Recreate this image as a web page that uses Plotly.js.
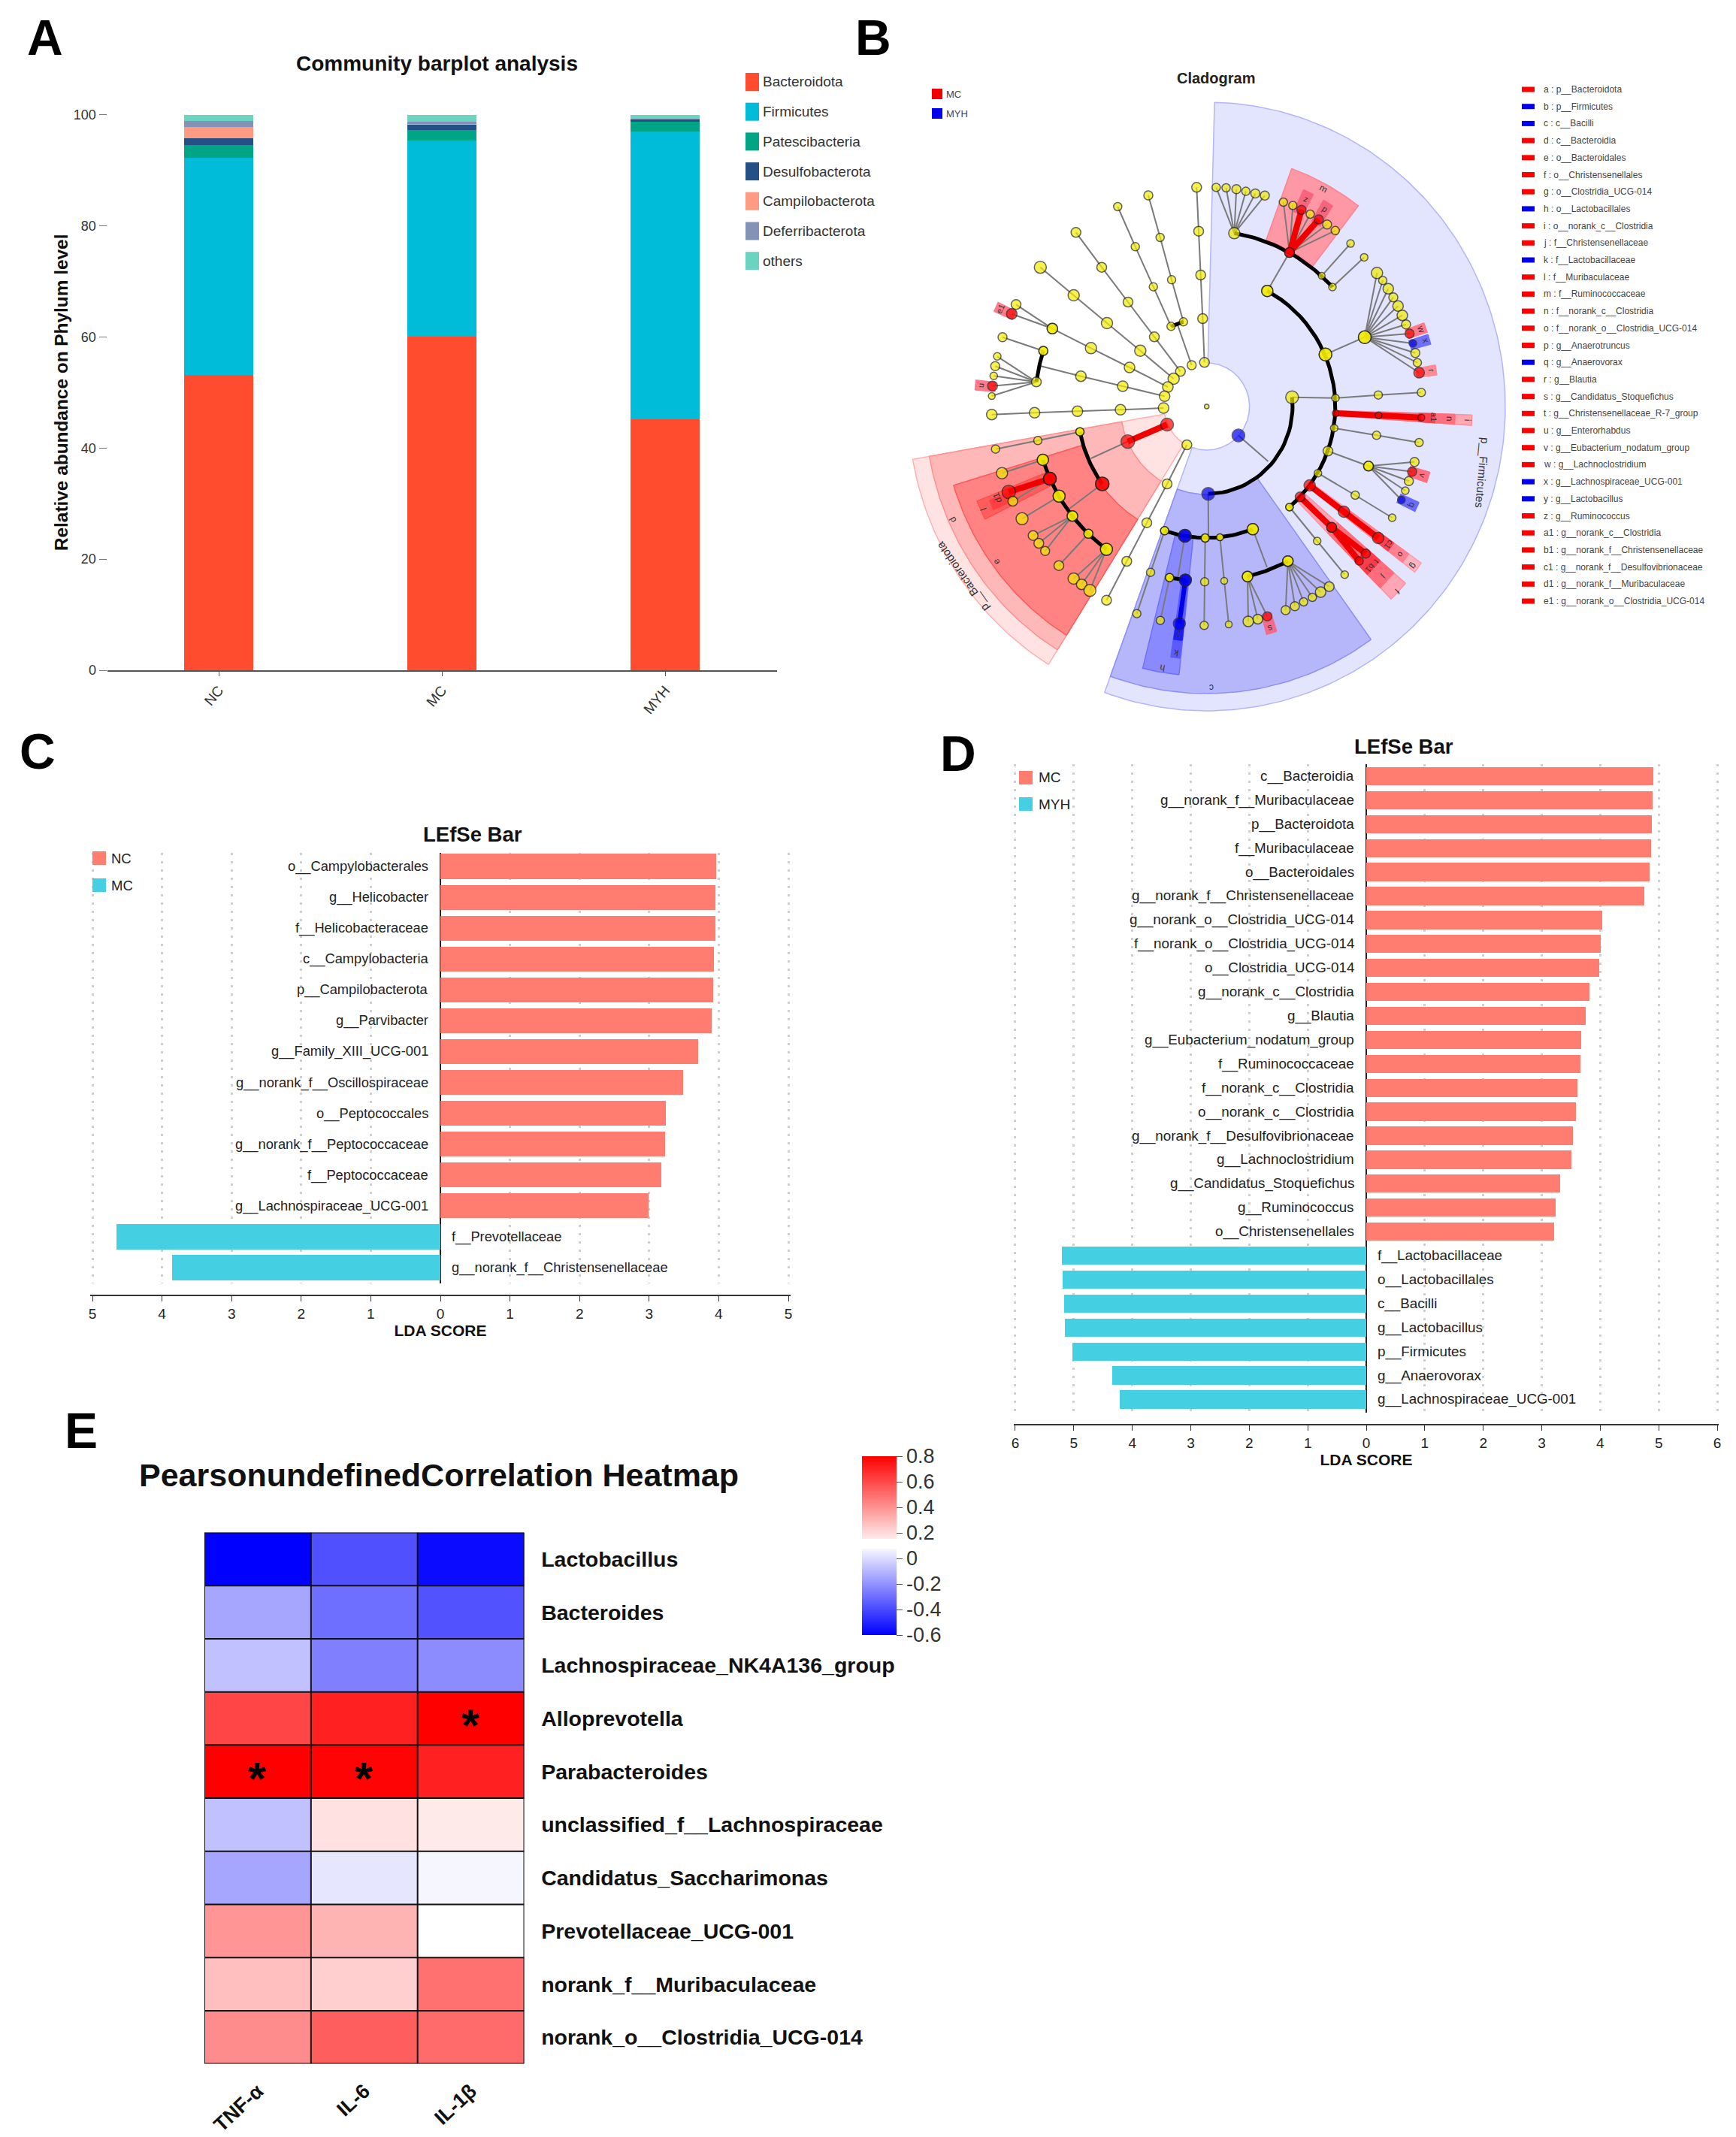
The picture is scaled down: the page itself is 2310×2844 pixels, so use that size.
<!DOCTYPE html>
<html><head><meta charset="utf-8">
<script src="https://cdn.plot.ly/plotly-3.0.1.min.js"></script>
<style>html,body{margin:0;padding:0;background:#fff}</style></head>
<body><div id="chart" style="width:2310px;height:2844px"></div>
<script>
const W=2310,H=2844;
const NARROW='"Liberation Sans",Arial,sans-serif';
const SANS='"Liberation Sans",Arial,sans-serif';

/* ---------- Panel A ---------- */
const groupsA=['NC','MC','MYH'];
const phyla=['Bacteroidota','Firmicutes','Patescibacteria','Desulfobacterota','Campilobacterota','Deferribacterota','others'];
const phylaColors=['#ff4c2e','#00bcd8','#00a585','#255085','#ff9b82','#8492b8','#6ad4c0'];
const bacteroidota=[53.1,60.0,45.2];
const firmicutes=[39.1,35.4,51.8];
const patescibacteria=[2.3,1.8,1.8];
const desulfobacterota=[1.2,1.0,0.3];
const campilobacterota=[2.1,0.1,0.05];
const deferribacterota=[1.1,0.4,0.1];
const othersA=[1.1,1.3,0.65];
const seriesA=[bacteroidota,firmicutes,patescibacteria,desulfobacterota,campilobacterota,deferribacterota,othersA];

/* ---------- Panel C ---------- */
const labelsC=['o__Campylobacterales','g__Helicobacter','f__Helicobacteraceae','c__Campylobacteria','p__Campilobacterota','g__Parvibacter','g__Family_XIII_UCG-001','g__norank_f__Oscillospiraceae','o__Peptococcales','g__norank_f__Peptococcaceae','f__Peptococcaceae','g__Lachnospiraceae_UCG-001','f__Prevotellaceae','g__norank_f__Christensenellaceae'];
const valuesC=[3.96,3.955,3.95,3.93,3.925,3.90,3.70,3.49,3.24,3.23,3.18,2.99,-4.65,-3.85];

/* ---------- Panel D ---------- */
const labelsD=['c__Bacteroidia','g__norank_f__Muribaculaceae','p__Bacteroidota','f__Muribaculaceae','o__Bacteroidales','g__norank_f__Christensenellaceae','g__norank_o__Clostridia_UCG-014','f__norank_o__Clostridia_UCG-014','o__Clostridia_UCG-014','g__norank_c__Clostridia','g__Blautia','g__Eubacterium_nodatum_group','f__Ruminococcaceae','f__norank_c__Clostridia','o__norank_c__Clostridia','g__norank_f__Desulfovibrionaceae','g__Lachnoclostridium','g__Candidatus_Stoquefichus','g__Ruminococcus','o__Christensenellales','f__Lactobacillaceae','o__Lactobacillales','c__Bacilli','g__Lactobacillus','p__Firmicutes','g__Anaerovorax','g__Lachnospiraceae_UCG-001'];
const valuesD=[4.91,4.895,4.88,4.875,4.85,4.75,4.04,4.01,3.98,3.82,3.755,3.68,3.66,3.61,3.58,3.53,3.51,3.32,3.24,3.21,-5.20,-5.19,-5.17,-5.15,-5.02,-4.34,-4.22];

/* ---------- Panel E ---------- */
const heatCols=['TNF-α','IL-6','IL-1β'];
const heatRows=['Lactobacillus','Bacteroides','Lachnospiraceae_NK4A136_group','Alloprevotella','Parabacteroides','unclassified_f__Lachnospiraceae','Candidatus_Saccharimonas','Prevotellaceae_UCG-001','norank_f__Muribaculaceae','norank_o__Clostridia_UCG-014'];
const heatValues=[[-0.60,-0.38,-0.57],[-0.145,-0.295,-0.375],[-0.07,-0.25,-0.215],[0.61,0.71,0.80],[0.80,0.79,0.71],[-0.07,0.18,0.155],[-0.145,0.03,0.075],[0.39,0.305,0.09],[0.275,0.23,0.49],[0.415,0.54,0.505]];
const heatStars=[['IL-1β','Alloprevotella'],['TNF-α','Parabacteroides'],['IL-6','Parabacteroides']];
const colorTicks=[0.8,0.6,0.4,0.2,0,-0.2,-0.4,-0.6];

/* ---------- Panel B: cladogram legend ---------- */
const cladoKeys=['a : p__Bacteroidota','b : p__Firmicutes','c : c__Bacilli','d : c__Bacteroidia','e : o__Bacteroidales','f : o__Christensenellales','g : o__Clostridia_UCG-014','h : o__Lactobacillales','i : o__norank_c__Clostridia','j : f__Christensenellaceae','k : f__Lactobacillaceae','l : f__Muribaculaceae','m : f__Ruminococcaceae','n : f__norank_c__Clostridia','o : f__norank_o__Clostridia_UCG-014','p : g__Anaerotruncus','q : g__Anaerovorax','r : g__Blautia','s : g__Candidatus_Stoquefichus','t : g__Christensenellaceae_R-7_group','u : g__Enterorhabdus','v : g__Eubacterium_nodatum_group','w : g__Lachnoclostridium','x : g__Lachnospiraceae_UCG-001','y : g__Lactobacillus','z : g__Ruminococcus','a1 : g__norank_c__Clostridia','b1 : g__norank_f__Christensenellaceae','c1 : g__norank_f__Desulfovibrionaceae','d1 : g__norank_f__Muribaculaceae','e1 : g__norank_o__Clostridia_UCG-014'];
const cladoKeyEnriched='RBBRRRRBRRBRRRRRBRRRRRRBBRRRRRR';

/* ---------- Panel B: cladogram tree (axis units of the tree panel) ---------- */
const Y=0,R=1,B=2;
const cladoChains=[
 [[1602.7,482.3,12],[1600.3,424,12],[1597.7,366,12],[1595,307.7,12],[1592.3,249.3,12]],
 [[1585.7,486,11],[1566.5,431,0]],
 [[1574.7,428.3,10],[1559,372.3,10],[1543.7,316,10],[1528,260,11]],
 [[1558.3,434.3,10],[1534.7,381.7,10],[1510.7,328.3,10],[1487.3,275,10]],
 [[1570.7,494.3,12],[1536,448.3,12],[1501,402,12],[1466,355.7,12],[1431.7,309.3,12]],
 [[1561.7,504,14],[1517.3,466.7,14],[1473,430,14],[1428.7,393,14],[1384.3,355.7,15]],
 [[1554,515,13],[1503,489,13],[1451.7,463.3,14],[1400.3,437.3,13]],
 [[1549.7,527.3,13],[1494,514,13],[1438.3,500.7,13],[1384,487,0]],
 [[1388.3,467,11],[1334,448.7,11]],
 [[1548.3,543,13],[1491,545.3,13],[1433.7,547.3,13],[1376.7,549.3,13],[1319.7,551.7,13]],
 [[1579.3,592,12],[1553,644,12],[1526,695.7,12],[1499.3,747,12],[1472.4,798.8,12]],
 [[1647.9,579.5,16,B],[1687.4,614,0]],
 [[1719.3,528.7,16],[1777,529.7,9],[1834,525.7,10],[1891.3,522.3,10]],
 [[1686.3,387.2,14],[1715.9,336.1,12,R]],
 [[1763.7,471.7,16],[1816,448.7,16]],
 [[1777.3,550,8,R],[1834.3,552.7,8,R],[1891.3,555.7,8,R]],
 [[1775.3,569.7,9],[1831.7,579.3,10],[1888.3,589,10]],
 [[1767,600.3,12],[1821,620.3,12]],
 [[1753.7,629.7,9],[1803.3,659,10],[1852.5,689,9]],
 [[1742.7,646,14,R],[1788.3,681,14,R],[1833.9,716,14,R]],
 [[1730,661.3,12,R],[1771.9,701.8,12,R]],
 [[1716,675,9],[1752.7,720,9],[1789.3,764.7,9]],
 [[1758.7,367.1,8],[1797.1,324.1,9]],
 [[1773,382,9],[1815.2,342.4,9]],
 [[1607.7,657.3,16,B],[1608,712,0]],
 [[1549.7,706.3,10],[1531,761.7,10],[1512.7,816.7,10]],
 [[1576.7,713,16,B],[1567,770,0]],
 [[1556.3,768.7,10],[1544,825.7,10]],
 [[1577.3,772,15,B],[1569.3,830,15,B]],
 [[1603.7,716,10],[1603,774.3,10],[1602.3,832.3,10]],
 [[1623.3,715,8],[1629,773,8],[1635,831,8]],
 [[1667,704.3,14],[1686,755,0]],
 [[1553,565,16,R],[1500.7,587.7,17,R],[1451.7,610,0]],
 [[1437,574.7,10],[1381,586.3,10],[1324.7,597.7,10]],
 [[1466.7,644,17,R],[1423.3,676.7,0]],
 [[1387.7,612,14],[1333.3,629.7,14]],
 [[1397,637,16,R],[1342.3,654.7,17,R]],
 [[1397,637,16,R],[1347.7,667,12]],
 [[1409.3,660.3,15],[1360,690.3,15]],
 [[1448.3,710.3,11],[1409,752.7,12]]
];
const cladoFans=[
 [[1642.4,310.3,14],[[1618.3,249.4,10],[1631.5,250,10],[1645.2,251.7,11],[1657.8,254.6,10],[1670.4,257.5,11],[1683,260.3,11]]],
 [[1715.9,336.1,12,R],[[1707.7,269,10],[1720.3,273.5,10],[1731.8,279.3,11,R],[1743.4,285,10],[1754.9,291.9,11,R],[1765.9,298.8,11],[1776.8,306.8,10]]],
 [[1816,448.7,16],[[1832.3,363.3,14],[1840,373.3,10],[1847.3,384.3,13],[1854,395.7,11],[1860.3,407.3,13],[1866,419.7,13],[1871,431.7,11],[1875.7,444,11,R],[1880,457,9,B],[1883.3,469.7,11],[1886,482.7,10],[1888.3,496,13,R]]],
 [[1821,620.3,12],[[1882.3,614.7,11],[1879,627.7,11,R],[1874.7,640.3,11],[1870,653,9],[1864.7,665.3,9,B]]],
 [[1771.9,701.8,12,R],[[1817.4,736.8,11,R],[1808.6,746.6,10,R]]],
 [[1660,767.3,13],[[1661,827,13],[1673.7,824,12],[1686.3,820.3,11,R]]],
 [[1713.7,746.7,13],[[1710.7,812,11],[1723,806.7,11],[1734.7,801,10],[1746.3,795,10],[1757.3,788,13],[1768.7,780.7,12]]],
 [[1400.3,437.3,13],[[1352,405.3,12],[1346.3,417.7,13,R]]],
 [[1379,508.3,12],[[1327,474.3,9],[1324.3,487.3,11],[1322.3,500.3,9],[1320.7,513.7,12,R],[1319.7,527,8]]],
 [[1427,686.7,13],[[1374.7,712.7,12],[1382.3,723,12],[1390.7,733.3,11]]],
 [[1472.3,731,15],[[1428.7,770,14],[1439.3,777.7,13],[1450.3,785.7,15]]]
];
const cladoArcs=[[1607.7,657.3,1719.3,528.7],[1686.3,387.2,1715.7,674.7],[1642.4,310.3,1773,382],[1549.7,706.3,1667,704.3],[1556.3,768.7,1577.3,772],[1660,767.3,1713.7,746.7],[1437,574.7,1466.7,644],[1387.7,612,1472.3,731],[1379,508.3,1388.3,467],[1558.3,434.3,1574.7,428.3]];
const cladoRedLinks=[[1715.9,336.1,1731.8,279.3],[1715.9,336.1,1754.9,291.9],[1777.3,550,1891.3,555.7],[1742.7,646,1833.9,716],[1730,661.3,1771.9,701.8],[1771.9,701.8,1817.4,736.8],[1771.9,701.8,1808.6,746.6],[1553,565,1500.7,587.7],[1397,637,1342.3,654.7]];
const cladoBlueLinks=[[1577.3,772,1569.3,830]];
const cladoExtraNodes=[[1605.7,541,5],[1549.7,706.3,10],[1576.7,713,16,B],[1603.7,716,10],[1623.3,715,8],[1667,704.3,14],[1556.3,768.7,10],[1577.3,772,15,B],[1660,767.3,13],[1713.7,746.7,13],[1437,574.7,10],[1466.7,644,17,R],[1387.7,612,14],[1397,637,16,R],[1409.3,660.3,15],[1427,686.7,13],[1448.3,710.3,11],[1472.3,731,15],[1388.3,467,11],[1763.7,471.7,16],[1686.3,387.2,14],[1715.7,674.7,9]];
/* wedge: start angle, end angle (degrees clockwise from top), inner radius, outer radius, fill, edge */
const cladoWedges=[
 [1.5,200,58,405,'#e3e4fd','#b4b4fb'],
 [212,260,58,405,'#ffe3e3','#ffb0b0'],
 [212,260,117,382,'#ffb8b8','#ff9090'],
 [212,253,177,359,'#ff8383','#ff5a5a'],
 [243.5,248,237,336,'#ff5c5c','#ff5050'],
 [244.6,247,290,320,'#ff3f3f','#ff3f3f'],
 [144.3,200,117,382,'#b6b7fb','#8d8ef8'],
 [186,194,177,359,'#8a8aff','#7070ff'],
 [186.2,188.3,233,337,'#5a5aff','#5a5aff'],
 [186.1,188.2,287,313,'#1c1cff','#1c1cff'],
 [162.4,165,288,314,'#f26b8a','#f26b8a'],
 [20,37.6,236,337,'#ff98a5','#ff8190'],
 [24.5,27.1,285,317,'#f8647c','#f8647c'],
 [30,32.6,285,317,'#f8647c','#f8647c'],
 [69.3,71.7,288,315,'#ff7a8a','#ff7a8a'],
 [72.3,74.7,288,315,'#6f6fff','#6f6fff'],
 [79.9,82.3,288,315,'#ff8a96','#ff8a96'],
 [91.8,94,178,360,'#ffa8b4','#ff90a0'],
 [91.8,94,235,337,'#ff6f7e','#ff6f7e'],
 [91.8,94,288,310,'#ff4050','#ff4050'],
 [106.1,108.7,288,315,'#ff6f7f','#ff6f7f'],
 [113.9,116.3,288,315,'#6a6aff','#6a6aff'],
 [125.6,128,178,358,'#ffb4c0','#ff9cac'],
 [125.6,128,235,337,'#ff8090','#ff8090'],
 [125.6,128,288,312,'#ff4050','#ff4050'],
 [131.1,135.7,178,358,'#ffa6b6','#ff90a0'],
 [131.1,135.7,235,337,'#ff6d7c','#ff6d7c'],
 [131.1,133.3,288,312,'#ff3b4a','#ff3b4a'],
 [133.5,135.7,288,312,'#ff3b4a','#ff3b4a'],
 [274,276.4,288,315,'#ff7a8a','#ff7a8a'],
 [293.7,296.1,288,315,'#ff7a8a','#ff7a8a']
];
/* label: text, x, y, angle, size */
const cladoLabels=[
 ['p__Firmicutes',1972,629,95,15],['p__Bacteroidota',1281,767,-125,15],
 ['c',1612,915,180,12],['h',1547,889,190,12],['k',1565,869,190,12],['y',1567,846,190,12],
 ['s',1690,836,160,12],['d',1268,692,240,12],['e',1326,748,240,12],['l',1309,678,250,12],['d1',1327,662,250,12],
 ['m',1761,251,28,12],['z',1738,265,25,11],['p',1763,278,32,11],['w',1891,438,70,12],['x',1897,453,72,12],['r',1905,493,80,11],
 ['i',1953,559,92,12],['n',1929,557,92,12],['a1',1908,555,92,11],['v',1893,633,108,11],['q',1879,672,115,12],
 ['c1',1848,725,127,11],['o',1864,738,127,11],['g',1881,753,127,12],['b1',1823,756,133,11],['t',1832,747,133,11],['j',1842,767,135,11],['f',1859,787,135,12],
 ['e1',1331,411,295,11],['u',1305,513,275,11]
];
const cladoCx=1605.7,cladoCy=541,cladoSquash=0.981;

/* ---------- helpers ---------- */
const fx=p=>p/W, fy=p=>1-p/H;
const domX=(a,b)=>[fx(a),fx(b)], domY=(a,b)=>[fy(b),fy(a)];
const colorOf={[Y]:'#f4ec00',[R]:'#ff0000',[B]:'#0000f0'};
function polar(t,r){const a=t*Math.PI/180;return [cladoCx+cladoSquash*r*Math.sin(a),cladoCy-r*Math.cos(a)];}
function unpolar(x,y){const dx=(x-cladoCx)/cladoSquash,dy=y-cladoCy;return [Math.atan2(dx,-dy)*180/Math.PI,Math.hypot(dx,dy)];}
const annotations=[],shapes=[],traces=[];
function txt(text,x,y,o={}){annotations.push(Object.assign({text,x:fx(x),y:fy(y),xref:'paper',yref:'paper',showarrow:false,xanchor:'left',yanchor:'middle',
  font:{family:o.family||NARROW,size:o.size||20,color:o.color||'#222',weight:o.weight||400}},o.extra||{}));}
function box(x0,x1,y0,y1,color){shapes.push({type:'rect',xref:'paper',yref:'paper',x0:fx(x0),x1:fx(x1),y0:fy(y0),y1:fy(y1),fillcolor:color,line:{width:0}});}

/* Panel letters */
[['A',60,50],['B',1162,50],['C',50,1000],['D',1275,1003],['E',108,1904]].forEach(l=>txt(l[0],l[1],l[2],{family:SANS,size:66,color:'#000',weight:700,extra:{xanchor:'center'}}));

/* Panel A */
seriesA.forEach((v,i)=>traces.push({type:'bar',name:phyla[i],x:groupsA,y:v,xaxis:'x',yaxis:'y',marker:{color:phylaColors[i]},width:0.313,showlegend:false,hoverinfo:'x+y+name'}));
txt('Community barplot analysis',581,85,{weight:700,size:28,color:'#111',extra:{xanchor:'center'}});
phyla.forEach((p,i)=>{const y=109+i*39.7;box(992,1010,y-12,y+12,phylaColors[i]);txt(p,1013,y,{size:19,color:'#333'});});

/* Panels C and D */
const REDBAR='#ff7d70',TEALBAR='#45cfe3';
function lefse(labels,values,xa,ya,names,gap,size){
 const split=values.findIndex(v=>v<0);
 traces.push({type:'bar',orientation:'h',name:names[0],y:labels.slice(0,split),x:values.slice(0,split),xaxis:xa,yaxis:ya,marker:{color:REDBAR},width:gap,showlegend:false});
 traces.push({type:'bar',orientation:'h',name:names[1],y:labels.slice(split),x:values.slice(split),xaxis:xa,yaxis:ya,marker:{color:TEALBAR},width:gap,showlegend:false});
 labels.forEach((l,i)=>{const neg=values[i]<0;annotations.push({text:l,x:0,y:l,xref:xa,yref:ya,showarrow:false,xanchor:neg?'left':'right',yanchor:'middle',xshift:neg?13:-14,font:{family:NARROW,size,color:'#222'}});});
}
lefse(labelsC,valuesC,'x2','y2',['NC','MC'],0.806,18.3);
lefse(labelsD,valuesD,'x3','y3',['MC','MYH'],0.76,18.8);
txt('LEfSe Bar',629,1110,{weight:700,size:27.5,color:'#111',extra:{xanchor:'center'}});
txt('LEfSe Bar',1868,993,{weight:700,size:27.5,color:'#111',extra:{xanchor:'center'}});
box(123,141,1133,1151,REDBAR);txt('NC',146,1142,{size:18.5});
box(123,141,1169,1187,TEALBAR);txt('MC',146,1178,{size:18.5});
box(1356,1374,1026,1044,REDBAR);txt('MC',1380,1035,{size:19});
box(1356,1374,1061,1079,TEALBAR);txt('MYH',1380,1070,{size:19});

/* Panel E */
traces.push({type:'heatmap',x:heatCols,y:heatRows,z:heatValues,xaxis:'x4',yaxis:'y4',zmin:-0.6,zmax:0.8,
 colorscale:[[0,'#0000ff'],[0.4836,'#f7f7ff'],[0.4837,'#ffffff'],[0.5359,'#ffffff'],[0.536,'#ffecec'],[1,'#ff0000']],
 colorbar:{x:fx(1147),xanchor:'left',y:fy(1938),yanchor:'top',lenmode:'pixels',len:238,thicknessmode:'pixels',thickness:46,xpad:0,ypad:0,outlinewidth:0,
   tickmode:'array',tickvals:colorTicks,ticktext:colorTicks.map(String),ticks:'outside',ticklen:8,tickcolor:'#555',tickfont:{family:SANS,size:27,color:'#333'}}});
for(let i=0;i<=heatCols.length;i++)shapes.push({type:'line',xref:'x4',yref:'y4',x0:i-0.5,x1:i-0.5,y0:-0.5,y1:heatRows.length-0.5,line:{color:'#111',width:2}});
for(let j=0;j<=heatRows.length;j++)shapes.push({type:'line',xref:'x4',yref:'y4',x0:-0.5,x1:heatCols.length-0.5,y0:j-0.5,y1:j-0.5,line:{color:'#111',width:2}});
heatStars.forEach(s=>annotations.push({text:'*',x:s[0],y:s[1],xref:'x4',yref:'y4',showarrow:false,yanchor:'middle',yshift:-9,font:{family:SANS,size:62,color:'#000',weight:700}}));
txt('PearsonundefinedCorrelation Heatmap',584,1963,{family:SANS,weight:700,size:43,color:'#111',extra:{xanchor:'center'}});

/* Panel B */
const wedgeTrace=w=>{const[t1,t2,r1,r2,fill,edge]=w;const xs=[],ys=[];const n=Math.max(8,Math.ceil((t2-t1)));
 for(let i=0;i<=n;i++){const p=polar(t1+(t2-t1)*i/n,r2);xs.push(p[0]);ys.push(p[1]);}
 for(let i=n;i>=0;i--){const p=polar(t1+(t2-t1)*i/n,r1);xs.push(p[0]);ys.push(p[1]);}
 xs.push(xs[0]);ys.push(ys[0]);
 return {type:'scatter',mode:'lines',x:xs,y:ys,fill:'toself',fillcolor:fill,line:{color:edge,width:1.5},xaxis:'x5',yaxis:'y5',hoverinfo:'skip',showlegend:false};};
cladoWedges.forEach(w=>traces.push(wedgeTrace(w)));
const thinX=[],thinY=[];
const seg=(a,b)=>{thinX.push(a[0],b[0],null);thinY.push(a[1],b[1],null);};
cladoChains.forEach(c=>{for(let i=0;i<c.length-1;i++)seg(c[i],c[i+1]);});
cladoFans.forEach(f=>f[1].forEach(k=>seg(f[0],k)));
traces.push({type:'scatter',mode:'lines',x:thinX,y:thinY,line:{color:'#7a7a7a',width:2},xaxis:'x5',yaxis:'y5',hoverinfo:'skip',showlegend:false});
const arcX=[],arcY=[];
cladoArcs.forEach(a=>{const p=unpolar(a[0],a[1]),q=unpolar(a[2],a[3]);if(p[0]<0)p[0]+=360;if(q[0]<0)q[0]+=360;
 for(let i=0;i<=30;i++){const pt=polar(p[0]+(q[0]-p[0])*i/30,p[1]+(q[1]-p[1])*i/30);arcX.push(pt[0]);arcY.push(pt[1]);}
 arcX.push(null);arcY.push(null);});
traces.push({type:'scatter',mode:'lines',x:arcX,y:arcY,line:{color:'#000',width:5},xaxis:'x5',yaxis:'y5',hoverinfo:'skip',showlegend:false});
const linkTrace=(links,color,width)=>{const x=[],y=[];links.forEach(l=>{x.push(l[0],l[2],null);y.push(l[1],l[3],null);});
 return {type:'scatter',mode:'lines',x,y,line:{color,width},xaxis:'x5',yaxis:'y5',hoverinfo:'skip',showlegend:false};};
traces.push(linkTrace(cladoRedLinks,'#f00000',8));
traces.push(linkTrace(cladoBlueLinks,'#0000e8',6));
const allNodes=[];
cladoChains.forEach(c=>c.forEach(n=>{if(n[2]>0)allNodes.push(n);}));
cladoFans.forEach(f=>{allNodes.push(f[0]);f[1].forEach(k=>allNodes.push(k));});
cladoExtraNodes.forEach(n=>allNodes.push(n));
traces.push({type:'scatter',mode:'markers',x:allNodes.map(n=>n[0]),y:allNodes.map(n=>n[1]),xaxis:'x5',yaxis:'y5',hoverinfo:'skip',showlegend:false,
 marker:{size:allNodes.map(n=>n[2]+1),color:allNodes.map(n=>colorOf[n[3]||Y]),line:{color:'#222',width:1.5}}});
cladoLabels.forEach(l=>annotations.push({text:l[0],x:l[1],y:l[2],xref:'x5',yref:'y5',showarrow:false,textangle:l[3],font:{family:SANS,size:l[4],color:'#333'}}));
txt('Cladogram',1618,104,{family:SANS,weight:700,size:20,color:'#222',extra:{xanchor:'center'}});
box(1240,1254,118,132,'#f00000');txt('MC',1257,125,{family:SANS,size:13,color:'#444'});
box(1240,1254,144,158,'#0000f0');txt('MYH',1257,151,{family:SANS,size:13,color:'#444'});
cladoKeys.forEach((k,i)=>{const y=119+i*22.7;box(2025,2042,y-3.5,y+3.5,cladoKeyEnriched[i]==='R'?'#ff0000':'#0000f0');txt(k,2052,y,{family:SANS,size:12,color:'#444'});});

/* Layout */
const absTick=v=>String(Math.abs(v));
const ldaAxis=(lim,a,b,pos)=>{const vals=[];for(let v=-lim;v<=lim;v++)vals.push(v);
 const pad=0.03,unit=(b-a)/(2*lim);
 return {domain:domX(a-pad*unit,b+pad*unit),range:[-lim-pad,lim+pad],anchor:'free',position:pos,tickmode:'array',tickvals:vals,ticktext:vals.map(absTick),ticks:'outside',ticklen:7,tickcolor:'#333',
  showline:true,linecolor:'#333',linewidth:2,showgrid:true,gridcolor:'#cfcfcf',gridwidth:3,griddash:'3px,8px',zeroline:true,zerolinecolor:'#222',zerolinewidth:2,
  tickfont:{family:NARROW,size:19,color:'#222'},title:{text:'LDA SCORE',font:{family:NARROW,size:21,color:'#111',weight:700},standoff:0}};};
const layout={width:W,height:H,margin:{l:0,r:0,t:0,b:0},paper_bgcolor:'#fff',plot_bgcolor:'#fff',barmode:'stack',showlegend:false,hovermode:'closest',font:{family:SANS},
 annotations,shapes,
 xaxis:{domain:domX(142.5,1033.5),range:[-0.5,2.5],anchor:'y',showline:true,linecolor:'#555',linewidth:2,ticks:'outside',ticklen:6,tickcolor:'#555',tickangle:-50,tickfont:{family:NARROW,size:19,color:'#333'},showgrid:false,zeroline:false},
 yaxis:{domain:domY(152.7,892),range:[0,100],anchor:'x',dtick:20,ticks:'outside',ticklen:10,tickcolor:'#777',showline:false,showgrid:false,zeroline:false,tickfont:{family:NARROW,size:18,color:'#333'},
   title:{text:'Relative abundance on Phylum level',font:{family:SANS,size:24.4,color:'#111',weight:700},standoff:0}},
 xaxis2:ldaAxis(5,123,1049,fy(1724)),
 yaxis2:{domain:domY(1134.5,1708),range:[13.51,-0.45],anchor:'x2',visible:false},
 xaxis3:ldaAxis(6,1351,2285,fy(1896)),
 yaxis3:{domain:domY(1017,1880),range:[26.55,-0.5],anchor:'x3',visible:false},
 xaxis4:{domain:domX(272,697.5),range:[-0.5,2.5],anchor:'y4',tickangle:-43,ticks:'outside',ticklen:9,tickcolor:'rgba(0,0,0,0)',showgrid:false,zeroline:false,tickfont:{family:SANS,size:27,color:'#111',weight:700}},
 yaxis4:{domain:domY(2039.5,2746.6),range:[9.5,-0.5],anchor:'x4',side:'right',ticks:'outside',ticklen:16,tickcolor:'rgba(0,0,0,0)',showgrid:false,zeroline:false,tickfont:{family:SANS,size:28.5,color:'#111',weight:700}},
 xaxis5:{domain:domX(1180,2040),range:[1180,2040],anchor:'y5',visible:false},
 yaxis5:{domain:domY(60,960),range:[960,60],anchor:'x5',visible:false}
};
Plotly.newPlot('chart',traces,layout,{staticPlot:true,displayModeBar:false});
</script></body></html>
